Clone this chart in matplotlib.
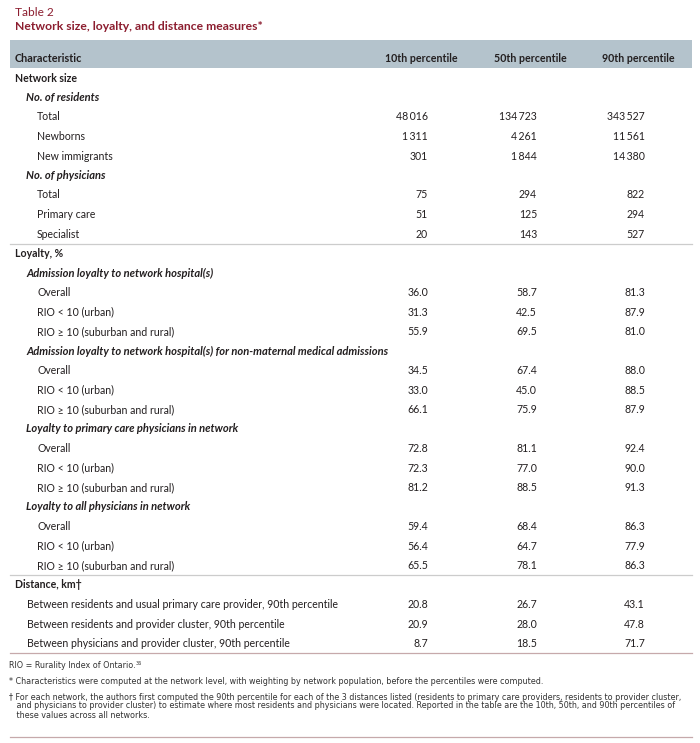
import matplotlib
matplotlib.use("Agg")
import matplotlib.pyplot as plt

# ---- table content ----
title_num = "Table 2"
title_text = "Network size, loyalty, and distance measures*"
col_heads = ["10th percentile", "50th percentile", "90th percentile"]

row_labels = [
    "Network size", "No. of residents", "Total", "Newborns", "New immigrants",
    "No. of physicians", "Total", "Primary care", "Specialist",
    "Loyalty, %", "Admission loyalty to network hospital(s)",
    "Overall", "RIO < 10 (urban)", "RIO \u2265 10 (suburban and rural)",
    "Admission loyalty to network hospital(s) for non-maternal medical admissions",
    "Overall", "RIO < 10 (urban)", "RIO \u2265 10 (suburban and rural)",
    "Loyalty to primary care physicians in network",
    "Overall", "RIO < 10 (urban)", "RIO \u2265 10 (suburban and rural)",
    "Loyalty to all physicians in network",
    "Overall", "RIO < 10 (urban)", "RIO \u2265 10 (suburban and rural)",
    "Distance, km\u2020",
    "Between residents and usual primary care provider, 90th percentile",
    "Between residents and provider cluster, 90th percentile",
    "Between physicians and provider cluster, 90th percentile",
]
# 0 = section, 1 = italic subgroup, 2 = item, 3 = distance item
row_levels = [0, 1, 2, 2, 2, 1, 2, 2, 2,
              0, 1, 2, 2, 2, 1, 2, 2, 2, 1, 2, 2, 2, 1, 2, 2, 2,
              0, 3, 3, 3]

p10 = [None, None, 48016, 1311, 301, None, 75, 51, 20,
       None, None, 36.0, 31.3, 55.9, None, 34.5, 33.0, 66.1,
       None, 72.8, 72.3, 81.2, None, 59.4, 56.4, 65.5,
       None, 20.8, 20.9, 8.7]
p50 = [None, None, 134723, 4261, 1844, None, 294, 125, 143,
       None, None, 58.7, 42.5, 69.5, None, 67.4, 45.0, 75.9,
       None, 81.1, 77.0, 88.5, None, 68.4, 64.7, 78.1,
       None, 26.7, 28.0, 18.5]
p90 = [None, None, 343527, 11561, 14380, None, 822, 294, 527,
       None, None, 81.3, 87.9, 81.0, None, 88.0, 88.5, 87.9,
       None, 92.4, 90.0, 91.3, None, 86.3, 77.9, 86.3,
       None, 43.1, 47.8, 71.7]

section_breaks = [8, 25]   # light rule after these rows

footnotes = [
    "RIO = Rurality Index of Ontario.",
    "* Characteristics were computed at the network level, with weighting by network population, before the percentiles were computed.",
    "\u2020 For each network, the authors first computed the 90th percentile for each of the 3 distances listed (residents to primary care providers, residents to provider cluster,",
    "   and physicians to provider cluster) to estimate where most residents and physicians were located. Reported in the table are the 10th, 50th, and 90th percentiles of",
    "   these values across all networks.",
]
ref_mark = "36"


def fmt(v):
    if v is None:
        return ""
    if isinstance(v, int):
        return f"{v:,}".replace(",", "\u2009")
    return f"{v:.1f}"


RED = "#8c1d2f"
TXT = "#231f20"
BAND = "#b4c3cc"
RULE = "#cccccc"
RULE2 = "#c6a9ab"
FONT = "Lato"
FOOT = ["Liberation Sans Narrow", "DejaVu Sans"]
FS = 7.6

fig = plt.figure(figsize=(7, 7.43), dpi=100)
ax = fig.add_axes([0, 0, 1, 1])
ax.set_xlim(0, 700)
ax.set_ylim(743, 0)
ax.axis("off")

# title
ax.text(15, 12, title_num, color=RED, fontsize=8.6, family=FONT, va="center")
ax.text(15, 27, title_text, color=RED, fontsize=8.7, family=FONT,
        weight="bold", va="center")

# header band
ax.fill_between([10, 692], 40, 68, color=BAND, lw=0)
head_y = 58.5
ax.text(15, head_y, "Characteristic", fontsize=7.8, family=FONT,
        weight="bold", color=TXT, va="center")
head_x = [458, 567, 675]
for x, h in zip(head_x, col_heads):
    ax.text(x, head_y, h, fontsize=7.7, family=FONT, weight="bold",
            color=TXT, va="center", ha="right")

# body rows
y0, step = 78, 19.5
indent = {0: 15, 1: 26, 2: 37, 3: 27}
val_x = [428, 537, 645]
for i, lab in enumerate(row_labels):
    y = y0 + i * step
    lev = row_levels[i]
    if lev == 1:
        ax.text(indent[lev], y, lab, fontsize=8.0, family=FONT, color=TXT,
                style="italic", weight="bold", va="center")
    else:
        ax.text(indent[lev], y, lab, fontsize=FS, family=FONT, color=TXT,
                weight="bold" if lev == 0 else "normal", va="center")
    for x, col in zip(val_x, (p10, p50, p90)):
        ax.text(x, y, fmt(col[i]), fontsize=FS, family=FONT, color=TXT,
                va="center", ha="right")

for b in section_breaks:
    yy = y0 + (b + 0.5) * step
    ax.plot([10, 692], [yy, yy], color=RULE, lw=0.9)
y_end = y0 + (len(row_labels) - 0.5) * step
ax.plot([10, 692], [y_end, y_end], color=RULE2, lw=0.9)

# footnotes
foot_y = [666, 682, 697, 706, 715]
foot_txt = []
for y, t in zip(foot_y, footnotes):
    foot_txt.append(ax.text(9, y, t, fontsize=5.8, family=FOOT,
                            color="#333333", va="center"))
ax.plot([10, 692], [737, 737], color=RULE2, lw=0.9)

# superscript reference number after the first footnote
fig.canvas.draw()
bb = foot_txt[0].get_window_extent()
x_end = ax.transData.inverted().transform((bb.x1, bb.y1))[0]
ax.text(x_end + 0.5, foot_y[0] - 2.5, ref_mark, fontsize=3.6, family=FOOT,
        color="#333333", va="center")

fig.savefig("out.png", dpi=100)
